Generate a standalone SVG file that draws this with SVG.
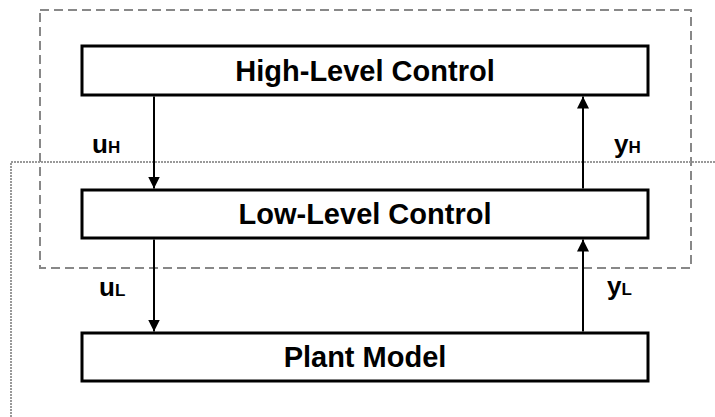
<svg xmlns="http://www.w3.org/2000/svg" width="715" height="417" viewBox="0 0 715 417">
  <style>
    .box { fill: #fff; stroke: #000; stroke-width: 3; }
    .title { font-family: "Liberation Sans", Arial, sans-serif; font-weight: bold; font-size: 29px; fill: #000; text-anchor: middle; }
    .sig { font-family: "Liberation Sans", Arial, sans-serif; font-weight: bold; font-size: 26px; fill: #000; }
    .sub { font-size: 17px; }
    .wire { stroke: #000; stroke-width: 2; fill: none; }
    .frame { fill: none; stroke: #888; stroke-width: 2; stroke-dasharray: 9 5; }
    .boundary { fill: none; stroke: #999; stroke-width: 2; stroke-dasharray: 2 1; }
  </style>
  <defs>
    <marker id="arrow" viewBox="0 0 12 12" refX="12" refY="6" markerWidth="12" markerHeight="12" markerUnits="userSpaceOnUse" orient="auto">
      <path d="M0,0 L12,6 L0,12 Z" fill="#000"/>
    </marker>
  </defs>
  <rect width="715" height="417" fill="#fff"/>

  <!-- controller boundary (dashed) -->
  <rect id="controller-frame" class="frame" x="40" y="10" width="651" height="258"/>
  <!-- simulation boundary (dotted) -->
  <path id="sim-boundary" class="boundary" d="M715,162 H11 V417"/>

  <g id="high-level">
    <rect class="box" x="82" y="46" width="566" height="49"/>
    <text class="title" x="365" y="81">High-Level Control</text>
  </g>
  <g id="low-level">
    <rect class="box" x="82" y="190" width="566" height="48"/>
    <text class="title" x="365" y="224">Low-Level Control</text>
  </g>
  <g id="plant">
    <rect class="box" x="82" y="333" width="566" height="48"/>
    <text class="title" x="365" y="367">Plant Model</text>
  </g>

  <g id="connectors">
    <line class="wire" x1="154" y1="96.5" x2="154" y2="188.5" marker-end="url(#arrow)"/>
    <line class="wire" x1="154" y1="239.5" x2="154" y2="331.5" marker-end="url(#arrow)"/>
    <line class="wire" x1="583" y1="331.5" x2="583" y2="239.5" marker-end="url(#arrow)"/>
    <line class="wire" x1="583" y1="188.5" x2="583" y2="96.5" marker-end="url(#arrow)"/>
    <text class="sig" x="92" y="153">u<tspan class="sub">H</tspan></text>
    <text class="sig" x="99" y="296">u<tspan class="sub">L</tspan></text>
    <text class="sig" x="614" y="153">y<tspan class="sub">H</tspan></text>
    <text class="sig" x="607" y="295">y<tspan class="sub">L</tspan></text>
  </g>
</svg>
